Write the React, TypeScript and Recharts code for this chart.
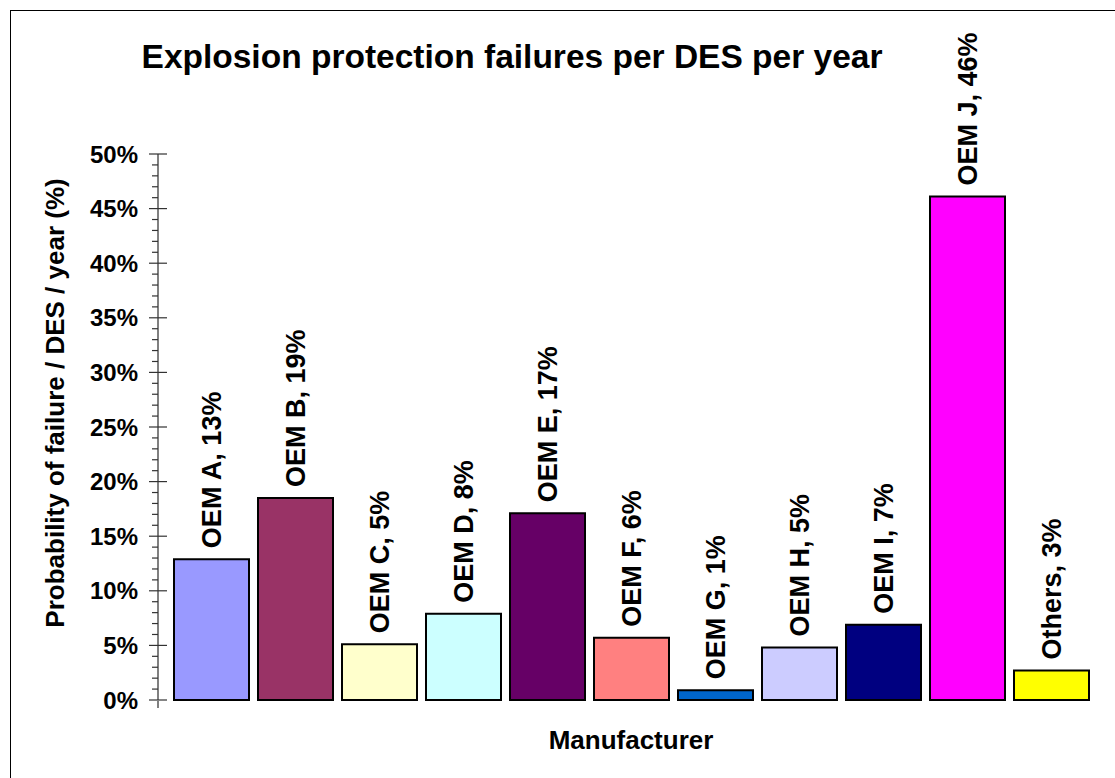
import { BarChart, Bar, XAxis, YAxis, Cell, LabelList } from 'recharts'

// Manufacturer categories and values (percent)
const manufacturers = ['OEM A', 'OEM B', 'OEM C', 'OEM D', 'OEM E', 'OEM F', 'OEM G', 'OEM H', 'OEM I', 'OEM J', 'Others']
const failureRates = [12.9, 18.5, 5.1, 7.9, 17.1, 5.7, 0.9, 4.8, 6.9, 46.1, 2.7]
const barColors = ['#9999FF', '#993366', '#FFFFCC', '#CCFFFF', '#660066', '#FF8080', '#0066CC', '#CCCCFF', '#000080', '#FF00FF', '#FFFF00']

// y axis: labelled ticks every 5%, minor ticks every 1%
const majorTicks = [0, 5, 10, 15, 20, 25, 30, 35, 40, 45, 50]
const minorTicks = Array.from({ length: 51 }, (_, i) => i)

const FONT = 'Arial, "Liberation Sans", sans-serif'

const data = manufacturers.map((name, i) => ({
  name,
  value: failureRates[i],
  label: `${name}, ${Math.round(failureRates[i])}%`,
}))

// tick with Excel-like major (crossing) and minor (outside) marks
function YTick(props: any) {
  const { x, y, payload } = props
  const v = payload.value
  const major = majorTicks.includes(v)
  return (
    <g>
      {major ? (
        <line x1={x - 9} x2={x + 9} y1={y} y2={y} stroke="#333" strokeWidth={1.2} />
      ) : (
        <line x1={x - 6} x2={x} y1={y} y2={y} stroke="#333" strokeWidth={1.2} />
      )}
      {v === 0 && <line x1={x} x2={x} y1={y} y2={y + 8} stroke="#808080" strokeWidth={2} />}
      {major && (
        <text x={x - 20} y={y} dy="0.36em" textAnchor="end" fontFamily={FONT} fontWeight="bold" fontSize={24} fill="#000">
          {v}%
        </text>
      )}
    </g>
  )
}

// vertical data label sitting above each bar
function BarLabel(props: any) {
  const { x, y, width, value } = props
  const cx = x + width / 2
  const ty = y - 11
  return (
    <text
      x={cx}
      y={ty}
      dy="0.36em"
      transform={`rotate(-90, ${cx}, ${ty})`}
      textAnchor="start"
      fontFamily={FONT}
      fontWeight="bold"
      fontSize={27}
      fill="#000"
    >
      {value}
    </text>
  )
}

export default function App() {
  return (
    <div style={{ position: 'absolute', left: 0, top: 0, width: 1115, height: 778, overflow: 'hidden', background: '#fff' }}>
      <div style={{ position: 'absolute', left: 10, top: 10, width: 1200, height: 900, border: '1px solid #000' }} />
      <BarChart
        width={1115}
        height={778}
        data={data}
        margin={{ top: 154, right: 10, bottom: 78, left: 98 }}
        style={{ position: 'absolute', left: 0, top: 0 }}
      >
        <XAxis
          dataKey="name"
          height={0}
          tick={false}
          tickLine={false}
          axisLine={{ stroke: '#808080', strokeWidth: 2 }}
          padding={{ left: 11, right: 12 }}
        />
        <YAxis
          width={60}
          domain={[0, 50]}
          ticks={minorTicks}
          interval={0}
          tickSize={0}
          tickMargin={0}
          tickLine={false}
          tick={<YTick />}
          axisLine={{ stroke: '#808080', strokeWidth: 2 }}
        />
        <Bar dataKey="value" barSize={75} stroke="#000" strokeWidth={2} isAnimationActive={false}>
          {data.map((d, i) => (
            <Cell key={d.name} fill={barColors[i]} />
          ))}
          <LabelList dataKey="label" content={<BarLabel />} />
        </Bar>
      </BarChart>
      <svg width={1115} height={778} style={{ position: 'absolute', left: 0, top: 0, pointerEvents: 'none' }}>
        <text x={512} y={68} textAnchor="middle" fontFamily={FONT} fontWeight="bold" fontSize={33.5} fill="#000">
          Explosion protection failures per DES per year
        </text>
        <text
          x={64}
          y={403}
          textAnchor="middle"
          transform="rotate(-90, 64, 403)"
          fontFamily={FONT}
          fontWeight="bold"
          fontSize={26}
          fill="#000"
        >
          Probability of failure / DES / year (%)
        </text>
        <text x={631} y={749} textAnchor="middle" fontFamily={FONT} fontWeight="bold" fontSize={26} fill="#000">
          Manufacturer
        </text>
      </svg>
    </div>
  )
}
